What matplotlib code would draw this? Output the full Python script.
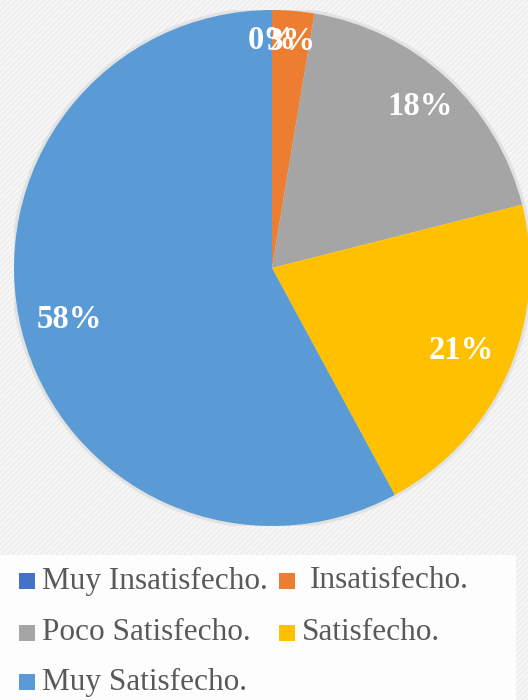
import numpy as np
import matplotlib
matplotlib.use("Agg")
import matplotlib.pyplot as plt
from matplotlib.patches import Rectangle, Circle

categories = ["Muy Insatisfecho.", "Insatisfecho.", "Poco Satisfecho.", "Satisfecho.", "Muy Satisfecho."]
counts = [0, 1, 7, 8, 22]
pct_labels = ["0%", "3%", "18%", "21%", "58%"]
colors = ["#4472C4", "#ED7D31", "#A5A5A5", "#FFC000", "#5B9BD5"]
label_radius = [0.88, 0.88, 0.85, 0.80, 0.81]

W, H = 528, 700
fig = plt.figure(figsize=(W / 100, H / 100), dpi=100)
fig.patch.set_facecolor("#f3f3f3")

# subtle diagonal texture background
bg = fig.add_axes([0, 0, 1, 1], zorder=-5)
bg.set_xlim(0, W); bg.set_ylim(0, H); bg.axis("off")
bg.add_patch(Rectangle((0, 0), W, H, facecolor="#f6f6f6", edgecolor="#ececec",
                       hatch="//////", linewidth=0))
# legend panel
bg.add_patch(Rectangle((0, 0), 516, 145, facecolor="#fdfdfd", edgecolor="none"))

cx, cy, r = 272, 268, 258
ax = fig.add_axes([(cx - r) / W, (H - cy - r) / H, 2 * r / W, 2 * r / H])
ax.set_xlim(-1, 1); ax.set_ylim(-1, 1)
ax.set_aspect("equal")
ax.axis("off")
ax.add_patch(Circle((0, 0), 1.012, facecolor="#e2e2e2", edgecolor="none", zorder=0))

wedges, _ = ax.pie(counts, colors=colors, startangle=90, counterclock=False,
                   radius=1.0, wedgeprops=dict(linewidth=0), frame=False)
for w in wedges:
    w.set_zorder(2)
ax.set_xlim(-1, 1); ax.set_ylim(-1, 1)

total = sum(counts)
cum = 0.0
for c, lab, lr in zip(counts, pct_labels, label_radius):
    mid = cum + c / 2.0
    ang = np.deg2rad(90 - 360 * mid / total)
    cum += c
    ax.text(lr * np.cos(ang), lr * np.sin(ang), lab, color="white",
            fontsize=23.5, fontweight="bold", family="Liberation Serif",
            ha="center", va="center", zorder=5)

# legend (row-wise, Excel style)
leg_pos = [(19, 581), (279, 581), (19, 633), (279, 633), (19, 682)]
text_offset = [23, 31, 23, 23, 23]
for (x, y), cat, col, off in zip(leg_pos, categories, colors, text_offset):
    bg.add_patch(Rectangle((x, H - y - 8), 16, 16, facecolor=col, edgecolor="none"))
    bg.text(x + off, H - y, cat, fontsize=22.5, family="Liberation Serif",
            color="#595959", ha="left", va="center")

fig.savefig("out.png", dpi=100, facecolor=fig.get_facecolor())
